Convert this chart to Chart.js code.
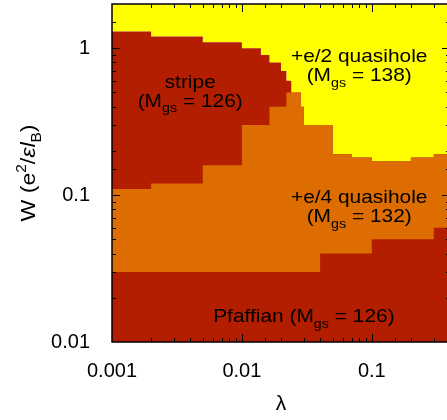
<!DOCTYPE html>
<html>
<head>
<meta charset="utf-8">
<script src="https://cdn.jsdelivr.net/npm/chart.js@4/dist/chart.umd.min.js"></script>
<style>
  html, body { margin: 0; padding: 0; background: #fff; overflow: hidden; }
  canvas { display: block; }
</style>
</head>
<body>
<canvas id="phase" width="452" height="420"></canvas>
<script>
// λ column edges: each phase boundary value holds from one edge to the next
const lambdaEdges = [0.001, 0.002, 0.005, 0.01, 0.014, 0.0163, 0.02, 0.022, 0.024, 0.0284, 0.03, 0.04, 0.05, 0.07, 0.1, 0.2, 0.3, 0.4];
// Upper W boundary of each phase, one value per λ column
const pfaffianTop    = [0.03, 0.03, 0.03, 0.03, 0.03, 0.03, 0.03, 0.03, 0.03, 0.03, 0.03, 0.04, 0.04, 0.04, 0.05, 0.05, 0.06];
const quarterHoleTop = [0.11, 0.12, 0.16, 0.3, 0.3, 0.4, 0.4, 0.5, 0.5, 0.4, 0.3, 0.3, 0.19, 0.18, 0.17, 0.18, 0.19];
const stripeTop      = [1.3, 1.2, 1.1, 1.0, 0.9, 0.8, 0.7, 0.6, 0.5, 0.4, 0.3, 0.3, 0.19, 0.18, 0.17, 0.18, 0.19];
// Axis ranges and labelled ticks
const lambdaRange = [0.001, 0.4];
const wRange = [0.01, 2];
const xTickLabels = ['0.001', '0.01', '0.1'];
const yTickLabels = ['0.01', '0.1', '1'];

const RED = 'rgb(179,30,0)';
const ORANGE = 'rgb(221,109,0)';
const YELLOW = 'rgb(255,255,0)';
const FONT = '"Liberation Sans", Arial, Helvetica, sans-serif';
const STRETCH = 1.1;

// Phase names placed at (λ, W) of the first text line's baseline
const phaseNotes = [
  { lambda: 0.004, w: 0.54,   lines: [[['stripe', '']], [['(M', ''], ['gs', 'sub'], [' = 126)', '']]] },
  { lambda: 0.08,  w: 0.80,   lines: [[['+e/2 quasihole', '']], [['(M', ''], ['gs', 'sub'], [' = 138)', '']]] },
  { lambda: 0.08,  w: 0.088,  lines: [[['+e/4 quasihole', '']], [['(M', ''], ['gs', 'sub'], [' = 132)', '']]] },
  { lambda: 0.03,  w: 0.0137, lines: [[['Pfaffian (M', ''], ['gs', 'sub'], [' = 126)', '']]] }
];
const yTitleParts = [['W (e', ''], ['2', 'sup'], ['/', ''], ['ε', 'it'], ['l', 'it'], ['B', 'sub'], [')', '']];

function stepSeries(tops) {
  const pts = tops.map((w, i) => ({ x: lambdaEdges[i], y: w }));
  pts.push({ x: lambdaEdges[lambdaEdges.length - 1], y: tops[tops.length - 1] });
  return pts;
}

function fmt(v) { return String(Number(v.toPrecision(6))); }
function isDecade(v) {
  const l = Math.log10(v);
  return Math.abs(l - Math.round(l)) < 1e-6;
}

// Draws text made of normal / italic / sub / superscript pieces
function drawRich(ctx, parts, x, y, size, rotation) {
  const specs = parts.map(([t, k]) => {
    const s = (k === 'sub' || k === 'sup') ? Math.round(size * 0.68) : size;
    const font = (k === 'it' ? 'italic ' : '') + s + 'px ' + FONT;
    ctx.font = font;
    const dy = k === 'sub' ? size * 0.3 : (k === 'sup' ? -size * 0.42 : 0);
    return { t, font, w: ctx.measureText(t).width, dy };
  });
  const total = specs.reduce((a, s) => a + s.w, 0);
  ctx.save();
  ctx.translate(x, y);
  if (rotation) ctx.rotate(rotation);
  ctx.scale(STRETCH, 1);
  ctx.fillStyle = '#000';
  ctx.textAlign = 'left';
  ctx.textBaseline = 'alphabetic';
  let cx = -total / 2;
  for (const s of specs) {
    ctx.font = s.font;
    ctx.fillText(s.t, cx, s.dy);
    cx += s.w;
  }
  ctx.restore();
}

// Inward tick marks on all four sides plus the plot frame
const axisFrame = {
  id: 'axisFrame',
  afterDatasetsDraw(chart) {
    const { ctx, chartArea: a, scales: { x, y } } = chart;
    ctx.save();
    ctx.strokeStyle = '#000';
    ctx.lineWidth = 1;
    ctx.beginPath();
    for (const t of x.ticks) {
      const px = Math.round(x.getPixelForValue(t.value)) + 0.5;
      if (px <= a.left + 1 || px >= a.right - 1) continue;
      const len = isDecade(t.value) ? 8 : 4;
      ctx.moveTo(px, a.bottom); ctx.lineTo(px, a.bottom - len);
      ctx.moveTo(px, a.top); ctx.lineTo(px, a.top + len);
    }
    for (const t of y.ticks) {
      const py = Math.round(y.getPixelForValue(t.value)) + 0.5;
      if (py <= a.top + 1 || py >= a.bottom - 1) continue;
      const len = isDecade(t.value) ? 8 : 4;
      ctx.moveTo(a.left, py); ctx.lineTo(a.left + len, py);
      ctx.moveTo(a.right, py); ctx.lineTo(a.right - len, py);
    }
    ctx.stroke();
    ctx.lineWidth = 1.5;
    ctx.strokeRect(a.left, a.top, a.right - a.left, a.bottom - a.top);
    ctx.restore();
  }
};

const phaseText = {
  id: 'phaseText',
  afterDatasetsDraw(chart) {
    const { ctx, scales: { x, y } } = chart;
    for (const note of phaseNotes) {
      const px = x.getPixelForValue(note.lambda);
      const py = y.getPixelForValue(note.w);
      note.lines.forEach((line, i) => drawRich(ctx, line, px, py + i * 19, 19, 0));
    }
  }
};

const yTitle = {
  id: 'yTitle',
  afterDraw(chart) {
    const { ctx, chartArea: a } = chart;
    drawRich(ctx, yTitleParts, 35, (a.top + a.bottom) / 2, 21, -Math.PI / 2);
  }
};

// Fixed axis boxes with no extra label padding around the plot
function fixBox(size, horizontal) {
  return s => {
    if (horizontal) s.height = size; else s.width = size;
    s.paddingTop = 0; s.paddingBottom = 0; s.paddingLeft = 0; s.paddingRight = 0;
  };
}

const common = { stepped: 'before', pointRadius: 0, borderWidth: 0, borderColor: 'rgba(0,0,0,0)' };

new Chart(document.getElementById('phase'), {
  type: 'line',
  data: {
    datasets: [
      { ...common, label: 'Pfaffian', data: stepSeries(pfaffianTop), fill: 'start', backgroundColor: RED },
      { ...common, label: '+e/4 quasihole', data: stepSeries(quarterHoleTop), fill: 'start', backgroundColor: ORANGE },
      { ...common, label: 'stripe', data: stepSeries(stripeTop), fill: 'start', backgroundColor: RED },
      { ...common, label: '+e/2 quasihole', data: stepSeries(stripeTop), fill: 'end', backgroundColor: YELLOW }
    ]
  },
  options: {
    responsive: false,
    animation: false,
    layout: { padding: { top: 4, right: 2, left: 0, bottom: 0 } },
    plugins: { legend: { display: false }, tooltip: { enabled: false } },
    scales: {
      x: {
        type: 'logarithmic',
        min: lambdaRange[0], max: lambdaRange[1],
        grid: { display: false }, border: { display: false },
        ticks: {
          autoSkip: false, maxRotation: 0, minRotation: 0, padding: 9, color: '#000',
          font: { family: FONT, size: 20 },
          callback: v => (xTickLabels.includes(fmt(v)) ? fmt(v) : '')
        },
        title: { display: true, text: 'λ', color: '#000', font: { family: FONT, size: 21 }, padding: { top: 0, bottom: 3 } },
        afterFit: fixBox(78, true)
      },
      y: {
        type: 'logarithmic',
        min: wRange[0], max: wRange[1],
        grid: { display: false }, border: { display: false },
        ticks: {
          autoSkip: false, padding: 14, color: '#000',
          font: { family: FONT, size: 20 },
          callback: v => (yTickLabels.includes(fmt(v)) ? fmt(v) : '')
        },
        afterFit: fixBox(112, false)
      }
    }
  },
  plugins: [axisFrame, phaseText, yTitle]
});
</script>
</body>
</html>
